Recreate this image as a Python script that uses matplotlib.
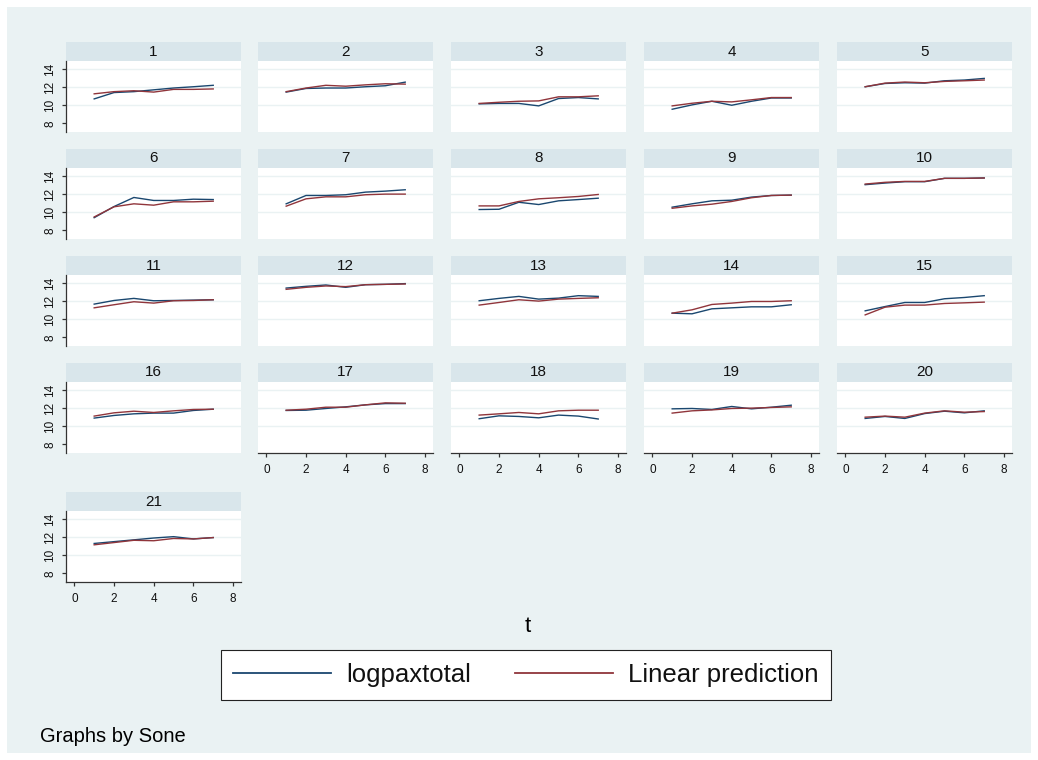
import matplotlib
matplotlib.use("Agg")
import matplotlib.pyplot as plt
from matplotlib.lines import Line2D
from matplotlib.patches import Rectangle

plt.rcParams['font.family'] = ['Liberation Sans', 'DejaVu Sans']

# time index and panel ids
t = [1, 2, 3, 4, 5, 6, 7]
sone = list(range(1, 22))

# observed log passengers, one list per panel
logpaxtotal = [
    [10.7, 11.4, 11.5, 11.7, 11.9, 12.04, 12.2],
    [11.45, 11.85, 11.9, 11.9, 12.04, 12.15, 12.55],
    [10.15, 10.2, 10.2, 9.93, 10.74, 10.85, 10.7],
    [9.56, 10.04, 10.44, 10.0, 10.44, 10.8, 10.8],
    [12.04, 12.4, 12.48, 12.44, 12.7, 12.78, 12.96],
    [9.4, 10.63, 11.63, 11.3, 11.3, 11.44, 11.4],
    [10.93, 11.85, 11.85, 11.93, 12.22, 12.33, 12.48],
    [10.3, 10.33, 11.1, 10.85, 11.26, 11.4, 11.55],
    [10.56, 10.93, 11.26, 11.33, 11.67, 11.85, 11.89],
    [13.04, 13.22, 13.37, 13.37, 13.74, 13.74, 13.78],
    [11.67, 12.07, 12.3, 12.04, 12.07, 12.11, 12.15],
    [13.44, 13.63, 13.78, 13.52, 13.81, 13.85, 13.93],
    [12.04, 12.3, 12.52, 12.22, 12.33, 12.6, 12.52],
    [10.67, 10.6, 11.15, 11.26, 11.37, 11.37, 11.6],
    [10.93, 11.4, 11.85, 11.85, 12.26, 12.4, 12.6],
    [10.9, 11.19, 11.37, 11.45, 11.45, 11.74, 11.88],
    [11.74, 11.77, 11.96, 12.14, 12.36, 12.5, 12.5],
    [10.83, 11.15, 11.08, 10.93, 11.23, 11.12, 10.8],
    [11.92, 11.96, 11.85, 12.18, 11.92, 12.1, 12.32],
    [10.86, 11.08, 10.86, 11.4, 11.66, 11.48, 11.7],
    [11.3, 11.5, 11.7, 11.9, 12.05, 11.8, 11.95],
]

# fitted values from the linear model
linpred = [
    [11.26, 11.5, 11.6, 11.45, 11.75, 11.75, 11.8],
    [11.5, 11.9, 12.2, 12.1, 12.25, 12.37, 12.33],
    [10.2, 10.33, 10.44, 10.48, 10.93, 10.93, 11.04],
    [9.93, 10.22, 10.44, 10.37, 10.6, 10.85, 10.85],
    [12.04, 12.44, 12.56, 12.48, 12.63, 12.7, 12.78],
    [9.48, 10.6, 10.93, 10.78, 11.15, 11.15, 11.22],
    [10.67, 11.48, 11.7, 11.7, 11.93, 12.0, 12.0],
    [10.7, 10.7, 11.19, 11.48, 11.6, 11.74, 11.96],
    [10.44, 10.7, 10.89, 11.19, 11.6, 11.85, 11.89],
    [13.11, 13.3, 13.4, 13.4, 13.74, 13.74, 13.78],
    [11.26, 11.6, 11.93, 11.78, 12.04, 12.07, 12.15],
    [13.3, 13.52, 13.67, 13.6, 13.81, 13.85, 13.89],
    [11.56, 11.85, 12.15, 12.0, 12.22, 12.3, 12.37],
    [10.67, 11.04, 11.63, 11.78, 11.96, 11.96, 12.04],
    [10.48, 11.33, 11.56, 11.56, 11.74, 11.81, 11.89],
    [11.12, 11.48, 11.66, 11.52, 11.7, 11.85, 11.88],
    [11.77, 11.88, 12.1, 12.1, 12.36, 12.58, 12.54],
    [11.23, 11.37, 11.52, 11.37, 11.7, 11.77, 11.77],
    [11.45, 11.7, 11.8, 11.96, 12.0, 12.07, 12.14],
    [11.0, 11.12, 11.0, 11.45, 11.7, 11.55, 11.62],
    [11.15, 11.4, 11.65, 11.6, 11.85, 11.8, 11.95],
]

yticks = [8, 10, 12, 14]
xticks = [0, 2, 4, 6, 8]

W, H = 1038, 760
bg = '#EAF2F3'
strip_bg = '#D9E6EB'
navy = '#1A476F'
maroon = '#90353B'
axis_col = '#333333'


def box(x0, y0, w, h):
    return [x0 / W, 1 - (y0 + h) / H, w / W, h / H]


fig = plt.figure(figsize=(W / 100, H / 100), dpi=100, facecolor='white')
fig.patches.append(Rectangle((7 / W, 7 / H), 1 - 14 / W, 1 - 14 / H,
                             transform=fig.transFigure, facecolor=bg,
                             edgecolor='none', zorder=-10))

col_x = [66, 258, 451, 644, 837]
row_y = [42, 149, 256, 363, 492]
pw, sh, ph = 175, 19, 71

for i, g in enumerate(sone):
    r, c = divmod(i, 5)
    x0, y0 = col_x[c], row_y[r]

    st = fig.add_axes(box(x0, y0, pw, sh))
    st.set_facecolor(strip_bg)
    st.set_xticks([])
    st.set_yticks([])
    for s in st.spines.values():
        s.set_visible(False)
    st.text(0.5, 0.5, str(g), ha='center', va='center', fontsize=11,
            color='#111111', transform=st.transAxes)

    ax = fig.add_axes(box(x0, y0 + sh, pw, ph))
    ax.set_facecolor('white')
    ax.set_xlim(-0.42, 8.4)
    ax.set_ylim(7.05, 14.88)
    for yv in yticks[1:]:
        ax.axhline(yv, color=bg, lw=1.0, zorder=0)
    ax.plot(t, logpaxtotal[i], color=navy, lw=1.0, zorder=3)
    ax.plot(t, linpred[i], color=maroon, lw=1.0, zorder=3)

    for s in ax.spines.values():
        s.set_visible(False)

    left = c == 0
    bottom = (r == 4) or (r == 3 and c > 0)
    if left:
        ax.spines['left'].set_visible(True)
        ax.spines['left'].set_color(axis_col)
        ax.spines['left'].set_linewidth(0.9)
        ax.set_yticks(yticks)
        ax.set_yticklabels([str(v) for v in yticks], rotation=90, va='center')
        ax.tick_params(axis='y', length=3, width=0.9, color=axis_col,
                       labelsize=8.5, pad=4, labelcolor='#111111')
    else:
        ax.set_yticks([])
    if bottom:
        ax.spines['bottom'].set_visible(True)
        ax.spines['bottom'].set_color(axis_col)
        ax.spines['bottom'].set_linewidth(0.9)
        ax.set_xticks(xticks)
        ax.tick_params(axis='x', length=3, width=0.9, color=axis_col,
                       labelsize=8.5, pad=5, labelcolor='#111111')
    else:
        ax.set_xticks([])

fig.text(528 / W, 1 - 626 / H, 't', ha='center', va='center', fontsize=16)

handles = [Line2D([], [], color=navy, lw=1.3), Line2D([], [], color=maroon, lw=1.3)]
leg = fig.legend(handles, ['logpaxtotal', 'Linear prediction'], ncol=2,
                 loc='center', bbox_to_anchor=(526 / W, 1 - 675 / H),
                 fontsize=18.5, frameon=True, fancybox=False, edgecolor='#222222',
                 handlelength=3.8, handletextpad=0.6, columnspacing=1.7,
                 borderpad=0.5, borderaxespad=0.0, facecolor='white', framealpha=1)
leg.get_frame().set_linewidth(0.8)
leg._legend_box.sep = 0
for txt in leg.get_texts():
    txt.set_color('#111111')

fig.text(40 / W, 1 - 736 / H, 'Graphs by Sone', ha='left', va='center', fontsize=14.5)

fig.savefig('out.png', dpi=100, facecolor=fig.get_facecolor())
